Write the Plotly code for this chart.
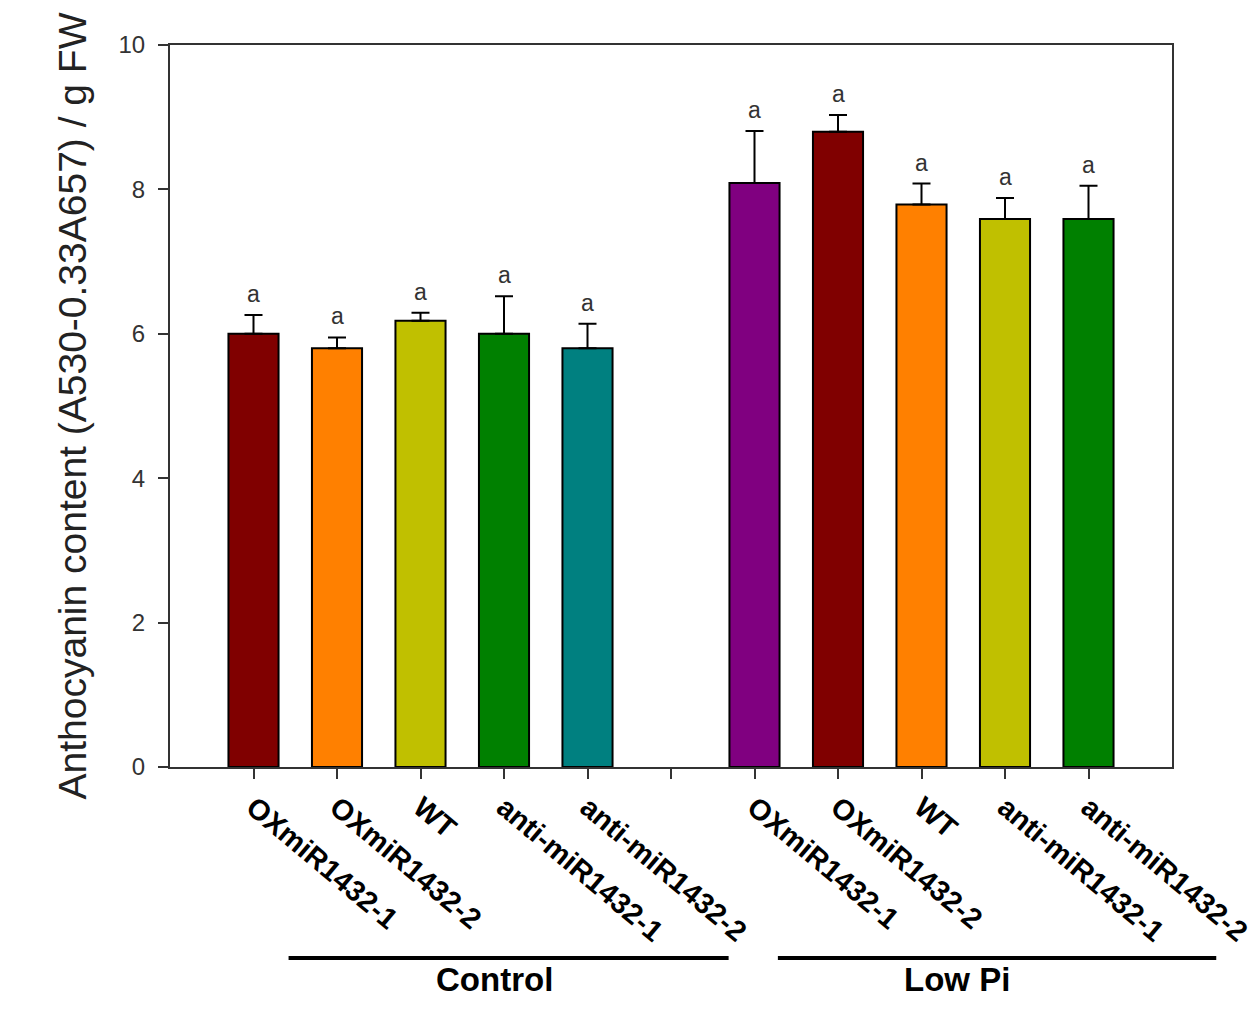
import plotly.graph_objects as go

genotypes = ["OXmiR1432-1", "OXmiR1432-2", "WT", "anti-miR1432-1", "anti-miR1432-2"]
groups = ["Control", "Low Pi"]

control_means = [6.0, 5.8, 6.18, 6.0, 5.8]
control_err = [0.26, 0.15, 0.11, 0.52, 0.34]
control_letters = ["a", "a", "a", "a", "a"]
control_colors = ["#800000", "#FF8000", "#C0C000", "#008000", "#008080"]

lowpi_means = [8.09, 8.8, 7.79, 7.59, 7.59]
lowpi_err = [0.72, 0.23, 0.29, 0.29, 0.46]
lowpi_letters = ["a", "a", "a", "a", "a"]
lowpi_colors = ["#800080", "#800000", "#FF8000", "#C0C000", "#008000"]

y_ticks = [0, 2, 4, 6, 8, 10]

# positions: control 0..4, gap at 5, low pi 6..10
control_x = list(range(len(genotypes)))
lowpi_x = [len(genotypes) + 1 + i for i in range(len(genotypes))]
all_x = list(range(2 * len(genotypes) + 1))
tick_text = genotypes + [""] + genotypes
x_range = [-1, 2 * len(genotypes) + 1]

fig = go.Figure()

for xs, means, errs, cols in [(control_x, control_means, control_err, control_colors),
                              (lowpi_x, lowpi_means, lowpi_err, lowpi_colors)]:
    fig.add_trace(go.Bar(
        x=xs, y=means, width=0.6,
        marker=dict(color=cols, line=dict(color="black", width=2)),
        error_y=dict(type="data", array=errs, arrayminus=[0] * len(errs), symmetric=False,
                     color="black", thickness=2, width=9),
        showlegend=False,
    ))

annotations = []
for xs, means, errs, letters in [(control_x, control_means, control_err, control_letters),
                                 (lowpi_x, lowpi_means, lowpi_err, lowpi_letters)]:
    for x, m, e, l in zip(xs, means, errs, letters):
        annotations.append(dict(x=x, y=m + e, text=l, showarrow=False, yanchor="bottom",
                                yshift=6, font=dict(family="Liberation Sans", size=23, color="#333333")))

def to_paper(v):
    return (v - x_range[0]) / (x_range[1] - x_range[0])

# group bracket extents (relative to first / last bar index) and label offsets, in category units
bracket_start = [0.42, 0.28]
bracket_end = [1.69, 1.53]
label_offset = [-0.17, -0.48]

shapes = []
for name, xs, s, e, off in zip(groups, [control_x, lowpi_x], bracket_start, bracket_end, label_offset):
    x0 = to_paper(xs[0] + s)
    x1 = to_paper(xs[-1] + e)
    shapes.append(dict(type="line", xref="paper", yref="paper", x0=x0, x1=x1,
                       y0=-0.2645, y1=-0.2645, line=dict(color="black", width=4)))
    xc = to_paper((xs[0] + s + xs[-1] + e) / 2 + off)
    annotations.append(dict(x=xc, y=-0.294, xref="paper", yref="paper", text="<b>%s</b>" % name,
                            showarrow=False, xanchor="center", yanchor="middle",
                            font=dict(family="Liberation Sans", size=33, color="black")))

fig.update_layout(
    width=1260, height=1020,
    margin=dict(l=170, r=88, t=45, b=253),
    plot_bgcolor="white", paper_bgcolor="white",
    shapes=shapes,
    annotations=annotations,
    xaxis=dict(range=x_range, tickmode="array", tickvals=all_x, automargin=False,
               ticktext=["<b>%s</b>" % t if t else "" for t in tick_text],
               tickangle=40, ticks="outside", ticklen=10, tickwidth=2, tickcolor="#333333",
               showline=True, linecolor="#333333", linewidth=2, mirror=True, showgrid=False,
               zeroline=False,
               tickfont=dict(family="Liberation Sans", size=29, color="black")),
    yaxis=dict(range=[0, 10], tickvals=y_ticks, ticks="outside", ticklen=10, tickwidth=2,
               tickcolor="#333333", showline=True, linecolor="#333333", linewidth=2, mirror=True,
               showgrid=False, zeroline=False, ticklabelstandoff=8, automargin=False,
               tickfont=dict(family="Liberation Sans", size=24, color="#333333"),
               title=dict(text="Anthocyanin content (A530-0.33A657) / g FW", standoff=20,
                          font=dict(family="Liberation Sans", size=39, color="#222222"))),
)

fig.write_html("out.html")
